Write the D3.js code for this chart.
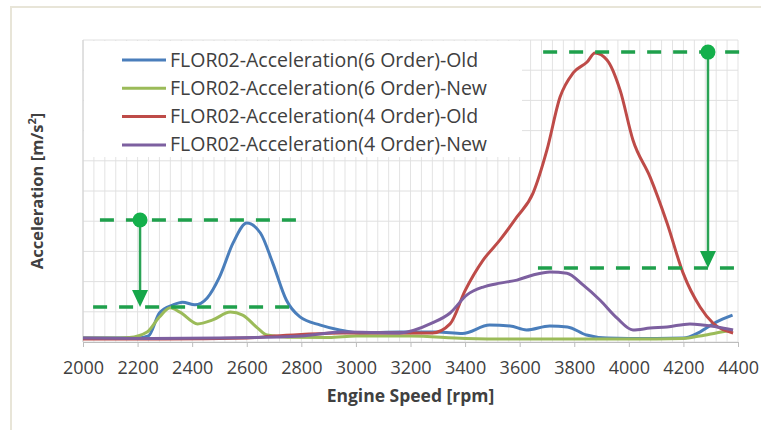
<!DOCTYPE html>
<html>
<head>
<meta charset="utf-8">
<script src="https://cdn.jsdelivr.net/npm/d3@7"></script>
<style>
  body { margin: 0; background: #fff; }
  text { font-family: "Open Sans", sans-serif; fill: #404040; }
</style>
</head>
<body>
<div id="main"></div>
<script>
const W = 761, H = 430;
const margin = {left: 83, right: 23, top: 40, bottom: 88};

// x ticks and data (rpm, acceleration, y axis unlabeled)
const xTicks = [2000, 2200, 2400, 2600, 2800, 3000, 3200, 3400, 3600, 3800, 4000, 4200, 4400];

const seriesNames = [
    "FLOR02-Acceleration(6 Order)-Old",
    "FLOR02-Acceleration(6 Order)-New",
    "FLOR02-Acceleration(4 Order)-Old",
    "FLOR02-Acceleration(4 Order)-New"
];
const seriesColors = ["#4a7ebb", "#9bbb59", "#be4b48", "#7d60a0"];

const blueOld = [[2000,0.13],[2100,0.13],[2200,0.13],[2240,0.2],[2280,0.96],[2330,1.23],[2365,1.32],[2410,1.23],
    [2455,1.46],[2500,2.15],[2550,3.28],[2600,3.94],[2650,3.61],[2695,2.62],[2745,1.39],[2795,0.83],[2870,0.56],
    [2940,0.4],[3015,0.3],[3160,0.33],[3300,0.33],[3390,0.28],[3490,0.56],[3565,0.53],[3625,0.4],[3710,0.53],
    [3775,0.5],[3845,0.23],[3920,0.13],[4000,0.12],[4100,0.12],[4200,0.13],[4260,0.33],[4320,0.66],[4380,0.89]];

const greenNew = [[2000,0.13],[2100,0.13],[2170,0.15],[2235,0.33],[2280,0.83],[2320,1.13],[2355,0.99],[2420,0.6],
    [2475,0.73],[2540,0.99],[2585,0.89],[2640,0.46],[2675,0.23],[2750,0.16],[2900,0.15],[3000,0.2],[3200,0.2],
    [3400,0.12],[3600,0.1],[3800,0.1],[4000,0.1],[4200,0.12],[4260,0.2],[4320,0.3],[4380,0.4]];

const redOld = [[2000,0.1],[2300,0.1],[2600,0.13],[2700,0.2],[2800,0.25],[2950,0.3],[3100,0.3],[3280,0.3],
    [3345,0.6],[3400,1.7],[3466,2.71],[3528,3.38],[3590,4.14],[3649,4.93],[3700,6.36],[3748,8.11],[3796,8.91],
    [3847,9.27],[3876,9.57],[3920,9.34],[3968,8.34],[4015,6.69],[4078,5.46],[4140,3.94],[4199,2.28],[4261,1.16],
    [4308,0.63],[4382,0.3]];

const purpleNew = [[2000,0.13],[2250,0.12],[2500,0.13],[2800,0.2],[2950,0.33],[3160,0.3],[3280,0.63],[3345,0.96],
    [3407,1.56],[3466,1.82],[3528,1.95],[3590,2.05],[3649,2.22],[3711,2.32],[3773,2.28],[3832,1.89],[3894,1.39],
    [3957,0.79],[4015,0.4],[4078,0.46],[4140,0.5],[4224,0.6],[4323,0.5],[4382,0.4]];

const allSeries = [blueOld, greenNew, redOld, purpleNew];

// green reduction annotations: dashed levels, arrow at xArrow
const annotations = [
    {xArrow: 2209, top: 4.04, bottom: 1.16, topSpan: [2062, 2802], botSpan: [2037, 2784]},
    {xArrow: 4290, top: 9.6, bottom: 2.45, topSpan: [3686, 4444], botSpan: [3667, 4426]}
];

const svg = d3.select("#main").append("svg").attr("width", W).attr("height", H);

// outer frame
svg.append("path").attr("d", `M11,${H} V7 H${W}`)
   .attr("fill", "none").attr("stroke", "#e8e5d8").attr("stroke-width", 2);

const x = d3.scaleLinear().domain([2000, 4400]).range([margin.left, W - margin.right]);
const y = d3.scaleLinear().domain([0, 10]).range([H - margin.bottom, margin.top]);

// gridlines
const grid = svg.append("g");
grid.selectAll("line.v").data(d3.range(2000, 4401, 40)).enter().append("line")
    .attr("x1", d => x(d)).attr("x2", d => x(d)).attr("y1", y(0)).attr("y2", y(10))
    .attr("stroke", "#e3e3e3").attr("stroke-width", 1);
grid.selectAll("line.h").data(d3.range(0, 11)).enter().append("line")
    .attr("x1", x(2000)).attr("x2", x(4400)).attr("y1", d => y(d)).attr("y2", d => y(d))
    .attr("stroke", "#e0e0e0").attr("stroke-width", 1);

// legend background
svg.append("rect").attr("x", x(2000) + 1).attr("y", y(10) + 1)
   .attr("width", 438).attr("height", 116).attr("fill", "#fff");

// x axis
const xAxis = svg.append("g").attr("transform", `translate(0,${y(0)})`)
    .call(d3.axisBottom(x).tickValues(xTicks).tickFormat(d3.format("d")).tickSize(5).tickPadding(14));
xAxis.select(".domain").attr("stroke", "#bdbdbd");
xAxis.selectAll(".tick line").attr("stroke", "#bdbdbd");
xAxis.selectAll("text").style("font-size", "18px").attr("fill", "#404040");

svg.append("line").attr("x1", x(2000)).attr("x2", x(2000)).attr("y1", y(0)).attr("y2", y(10))
   .attr("stroke", "#d0d0d0");

// lines
const line = d3.line().x(d => x(d[0])).y(d => y(d[1])).curve(d3.curveMonotoneX);
svg.append("g").selectAll("path").data(allSeries).enter().append("path")
    .attr("d", line).attr("fill", "none")
    .attr("stroke", (d, i) => seriesColors[i]).attr("stroke-width", 3)
    .attr("stroke-linejoin", "round");

// annotations
const green = "#1fa04c";
const ann = svg.append("g");
annotations.forEach(a => {
    [[a.topSpan, a.top], [a.botSpan, a.bottom]].forEach(([span, lv]) => {
        ann.append("line").attr("x1", x(span[0])).attr("x2", x(span[1]))
           .attr("y1", y(lv)).attr("y2", y(lv))
           .attr("stroke", green).attr("stroke-width", 3.5).attr("stroke-dasharray", "14,12");
    });
    const ax = x(a.xArrow), y0 = y(a.top), y1 = y(a.bottom);
    ann.append("line").attr("x1", ax).attr("x2", ax).attr("y1", y0).attr("y2", y1 - 14)
       .attr("stroke", "#2aa355").attr("stroke-width", 2.5);
    ann.append("path").attr("d", `M${ax - 8},${y1 - 17} L${ax + 8},${y1 - 17} L${ax},${y1} Z`)
       .attr("fill", "#16a64a");
    ann.append("circle").attr("cx", ax).attr("cy", y0).attr("r", 7.5).attr("fill", "#14b04b");
});

// legend
const leg = svg.append("g");
seriesNames.forEach((name, i) => {
    const ly = 60 + i * 28.3;
    leg.append("line").attr("x1", 122).attr("x2", 166).attr("y1", ly).attr("y2", ly)
       .attr("stroke", seriesColors[i]).attr("stroke-width", 3);
    leg.append("text").attr("x", 170).attr("y", ly + 6.5).style("font-size", "19.5px").text(name);
});

// axis titles
svg.append("text").attr("x", (x(2000) + x(4400)) / 2).attr("y", 402).attr("text-anchor", "middle")
   .style("font-size", "17.5px").style("font-weight", "bold").attr("fill", "#262626").text("Engine Speed [rpm]");

const yt = svg.append("text").attr("transform", `translate(43,${(y(0) + y(10)) / 2}) rotate(-90)`)
   .attr("text-anchor", "middle").style("font-size", "16.5px").style("font-weight", "bold").attr("fill", "#262626");
yt.append("tspan").text("Acceleration [m/s");
yt.append("tspan").attr("baseline-shift", "super").style("font-size", "11px").text("2");
yt.append("tspan").text("]");
</script>
</body>
</html>
